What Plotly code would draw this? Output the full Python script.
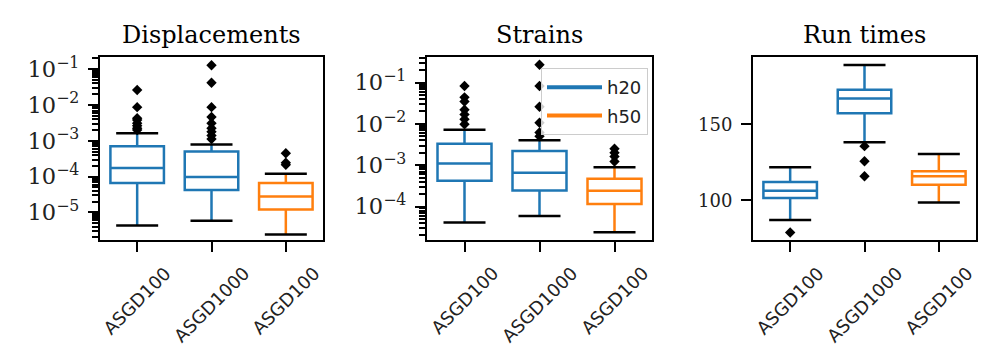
import plotly.graph_objects as go

# ---------------- data ----------------
positions = [0, 1, 2]
tick_labels = ["ASGD100", "ASGD1000", "ASGD100"]
box_series = ["h20", "h20", "h50"]
legend_names = ["h20", "h50"]
panel_titles = ["Displacements", "Strains", "Run times"]

disp_lo = [4.3e-6, 5.9e-6, 2.4e-6]
disp_q1 = [6.6e-5, 4.2e-5, 1.2e-5]
disp_med = [1.74e-4, 9.8e-5, 2.8e-5]
disp_q3 = [7.1e-4, 5.0e-4, 6.6e-5]
disp_hi = [1.62e-3, 7.9e-4, 1.2e-4]
disp_out = [
    [0.0263, 8.7e-3, 4.27e-3, 3.8e-3, 3.1e-3, 2.63e-3, 2.24e-3, 2.0e-3],
    [0.129, 0.0417, 8.7e-3, 4.6e-3, 3.1e-3, 2.24e-3, 1.78e-3, 1.41e-3, 1.12e-3],
    [4.5e-4, 2.45e-4, 2.14e-4],
]

strain_lo = [4.1e-5, 5.9e-5, 2.4e-5]
strain_q1 = [4.2e-4, 2.45e-4, 1.15e-4]
strain_med = [1.1e-3, 6.6e-4, 2.4e-4]
strain_q3 = [3.3e-3, 2.2e-3, 4.7e-4]
strain_hi = [7.2e-3, 4.0e-3, 8.9e-4]
strain_out = [
    [0.083, 0.044, 0.035, 0.022, 0.017, 0.0129, 0.0098],
    [0.27, 0.083, 0.026, 0.0107, 6.2e-3, 5.0e-3],
    [2.5e-3, 2.0e-3, 1.62e-3, 1.23e-3],
]

time_lo = [87.2, 138.3, 98.7]
time_q1 = [101.6, 157.3, 110.4]
time_med = [106.4, 167.0, 115.9]
time_q3 = [112.2, 172.7, 119.2]
time_hi = [121.8, 189.0, 130.6]
time_out = [[78.9], [135.7, 125.8, 115.9], []]

time_ticks = [100, 150]

# ---------------- style ----------------
colors = {"h20": "#1f77b4", "h50": "#ff7f0e"}
serif = "DejaVu Serif"
sans = "DejaVu Sans"

# page body has an 8px margin: figure is drawn from (8, 8)
OFF = 8
W, H = 980, 352


def px_x(x):
    return (x - OFF) / W


def px_y(y):
    return (H - (y - OFF)) / H


x_domains = [[px_x(100), px_x(323)], [px_x(427), px_x(652)], [px_x(753), px_x(976)]]
y_domain = [px_y(240), px_y(57)]
y_ranges = [[-5.77, -0.66], [-4.81, -0.38], [74, 194.3]]

panels = [
    (disp_lo, disp_q1, disp_med, disp_q3, disp_hi, disp_out),
    (strain_lo, strain_q1, strain_med, strain_q3, strain_hi, strain_out),
    (time_lo, time_q1, time_med, time_q3, time_hi, time_out),
]

fig = go.Figure()

for p, (lo, q1, med, q3, hi, outs) in enumerate(panels):
    xa = "x" if p == 0 else f"x{p+1}"
    ya = "y" if p == 0 else f"y{p+1}"
    for i, pos in enumerate(positions):
        c = colors[box_series[i]]
        fig.add_trace(go.Box(
            x=[pos], q1=[q1[i]], median=[med[i]], q3=[q3[i]],
            lowerfence=[lo[i]], upperfence=[hi[i]],
            width=0.72, whiskerwidth=0, boxpoints=False,
            line=dict(color=c, width=2.5), fillcolor="rgba(0,0,0,0)",
            showlegend=False, hoverinfo="skip", xaxis=xa, yaxis=ya,
        ))
        # whisker caps
        fig.add_trace(go.Scatter(
            x=[pos, pos], y=[lo[i], hi[i]], mode="markers",
            marker=dict(symbol="line-ew", size=30,
                        line=dict(color="black", width=2.5)),
            showlegend=False, hoverinfo="skip", xaxis=xa, yaxis=ya,
        ))
        if outs[i]:
            fig.add_trace(go.Scatter(
                x=[pos] * len(outs[i]), y=outs[i], mode="markers",
                marker=dict(symbol="diamond", size=8, color="black"),
                showlegend=False, hoverinfo="skip", xaxis=xa, yaxis=ya,
            ))

# legend entries (drawn in the Strains panel)
for name in legend_names:
    fig.add_trace(go.Scatter(
        x=[None], y=[None], mode="lines", name=name, legendgroup=name,
        line=dict(color=colors[name], width=4),
        xaxis="x2", yaxis="y2",
    ))

axis_common = dict(
    showline=True, linecolor="black", linewidth=2, mirror=True,
    ticks="outside", ticklen=10, tickwidth=2, tickcolor="black",
    showgrid=False, zeroline=False, automargin=False,
)

layout = dict(
    width=W, height=H,
    margin=dict(l=0, r=0, t=0, b=0, autoexpand=False),
    paper_bgcolor="white", plot_bgcolor="white",
    showlegend=True,
    legend=dict(
        x=px_x(648), xanchor="right", y=px_y(68), yanchor="top",
        bgcolor="rgba(255,255,255,0.8)", bordercolor="#cccccc", borderwidth=1,
        font=dict(family=sans, size=18, color="#222222"),
        tracegroupgap=2, itemwidth=55,
    ),
)

for p in range(3):
    xk = "xaxis" if p == 0 else f"xaxis{p+1}"
    yk = "yaxis" if p == 0 else f"yaxis{p+1}"
    anchor_x = "y" if p == 0 else f"y{p+1}"
    anchor_y = "x" if p == 0 else f"x{p+1}"
    layout[xk] = dict(
        axis_common, domain=x_domains[p], anchor=anchor_x,
        range=[-0.5, 2.5], tickmode="array", tickvals=positions,
        ticktext=tick_labels, showticklabels=False,
    )
    if p < 2:
        layout[yk] = dict(
            axis_common, domain=y_domain, anchor=anchor_y,
            type="log", range=y_ranges[p], dtick=1,
            exponentformat="power", showexponent="all",
            tickfont=dict(family=serif, size=18, color="#222222"),
            minor=dict(ticks="outside", ticklen=6, tickwidth=1.5,
                       tickcolor="black", showgrid=False, dtick="D1"),
            ticklabelstandoff=5,
        )
    else:
        layout[yk] = dict(
            axis_common, domain=y_domain, anchor=anchor_y,
            range=y_ranges[p], tickmode="array", tickvals=time_ticks,
            tickfont=dict(family=serif, size=18, color="#222222"),
            ticklabelstandoff=5,
        )

fig.update_layout(**layout)

for p, title in enumerate(panel_titles):
    fig.add_annotation(
        text=title, xref="paper", yref="paper",
        x=sum(x_domains[p]) / 2, y=px_y(35),
        xanchor="center", yanchor="middle", showarrow=False,
        font=dict(family=serif, size=24, color="black"),
    )
    # rotated category labels centred under their ticks (matplotlib style)
    xr = "x" if p == 0 else f"x{p+1}"
    for pos, lab in zip(positions, tick_labels):
        fig.add_annotation(
            text=lab, xref=xr, yref="paper", x=pos, y=px_y(260),
            xanchor="center", yanchor="top", textangle=-45, showarrow=False,
            font=dict(family=sans, size=18, color="#222222"),
        )

fig.write_html("out.html")
